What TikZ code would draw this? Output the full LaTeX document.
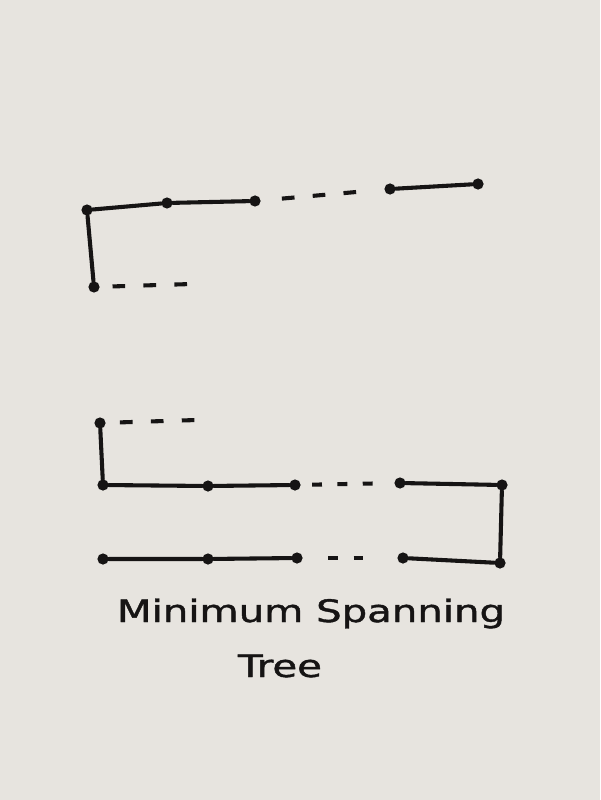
\documentclass[tikz,border=0pt]{standalone}
\usepackage{fontspec}
\usepackage{tikz}
\usetikzlibrary{positioning, calc, backgrounds}
\newfontfamily\handfont[FakeBold=1.2]{DejaVu Sans}
\definecolor{paper}{RGB}{231,228,223}
\definecolor{ink}{RGB}{22,20,20}
\tikzset{
  vtx/.style={circle, fill=ink, inner sep=0pt, minimum size=0.28cm},
  edge/.style={draw=ink, line width=2.9pt, line cap=round},
  gapedge/.style={draw=ink, line width=2.9pt, dash pattern=on 9pt off 13pt, shorten <=15pt, shorten >=14pt},
  label/.style={font=\handfont\fontsize{22}{26}\selectfont, text=ink, inner sep=0pt, xscale=1.3}
}
\begin{document}
\begin{tikzpicture}[x=0.025cm, y=-0.025cm]
  \fill[paper] (0,0) rectangle (600,800);
  \useasboundingbox (0,0) rectangle (600,800);

  % upper part of the tree
  \node [vtx] (a) at (87,210) {};
  \node [vtx] (b) at (167,203) {};
  \node [vtx] (c) at (255,201) {};
  \node [vtx] (d) at (390,189) {};
  \node [vtx] (e) at (478,184) {};
  \node [vtx] (f) at (94,287) {};
  \coordinate (fend) at (192,284);

  \draw [edge] (f) -- (a) -- (b) -- (c);
  \draw [edge] (d) -- (e);
  \draw [gapedge] (c) -- (d);
  \draw [gapedge, shorten <=9pt, shorten >=0pt] (f) -- (fend);

  % lower part of the tree
  \node [vtx] (g) at (100,423) {};
  \node [vtx] (h) at (103,485) {};
  \node [vtx] (i) at (208,486) {};
  \node [vtx] (j) at (295,485) {};
  \node [vtx] (k) at (400,483) {};
  \node [vtx] (l) at (502,485) {};
  \node [vtx] (m) at (500,563) {};
  \node [vtx] (n) at (403,558) {};
  \node [vtx] (o) at (297,558) {};
  \node [vtx] (p) at (208,559) {};
  \node [vtx] (q) at (103,559) {};
  \coordinate (gend) at (197,420);

  \draw [edge] (g) -- (h) -- (i) -- (j);
  \draw [edge] (k) -- (l) -- (m) -- (n);
  \draw [edge] (o) -- (p) -- (q);
  \draw [gapedge, dash pattern=on 7pt off 11pt, shorten <=8pt, shorten >=10pt] (j) -- (k);
  \draw [gapedge, dash pattern=on 7pt off 11pt, shorten <=18pt, shorten >=20pt] (o) -- (n);
  \draw [gapedge, shorten <=10pt, shorten >=0pt] (g) -- (gend);

  % caption
  \node [label, anchor=base] (title) at (311,622) {Minimum Spanning};
  \node [label, anchor=base] (tree) at (280,677) {Tree};
\end{tikzpicture}
\end{document}
